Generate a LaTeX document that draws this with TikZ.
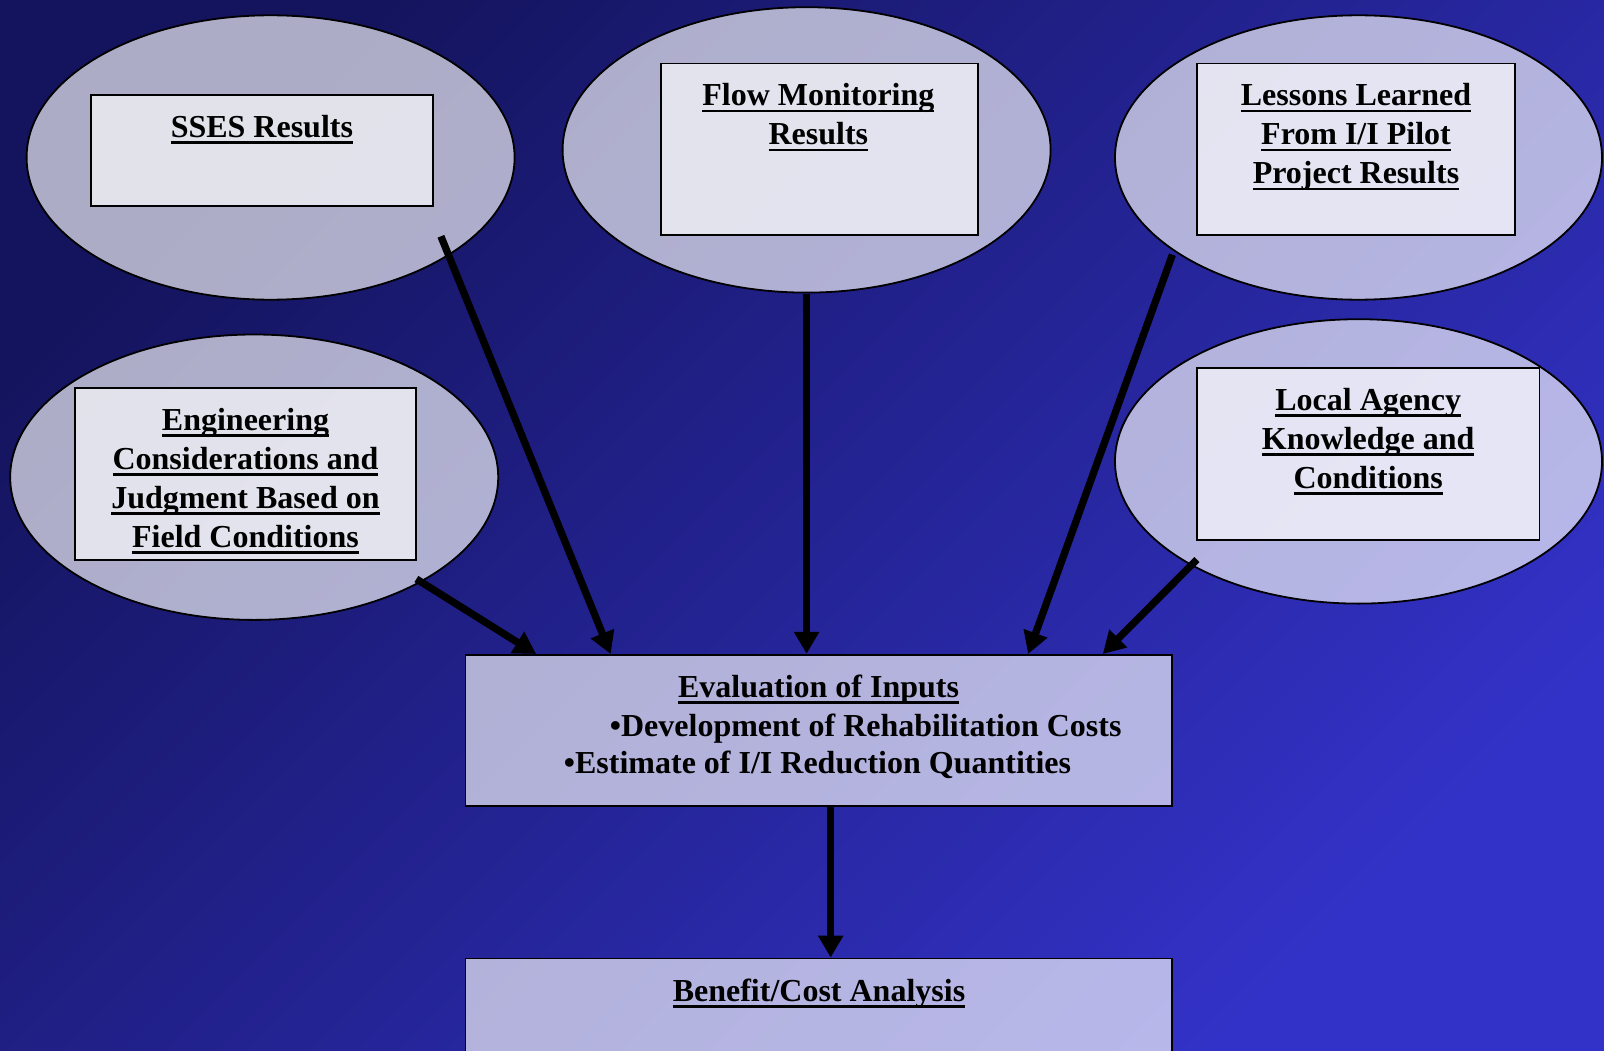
\documentclass[tikz,border=0pt]{standalone}
\usepackage{fontspec}
\setmainfont{Liberation Serif}
\usetikzlibrary{arrows.meta,shapes.geometric}
\definecolor{bgdark}{RGB}{20,20,94}
\definecolor{bglight}{RGB}{51,50,200}
\newcommand\myul[1]{\setbox0\hbox{#1}\rlap{\rule[-6.6pt]{\wd0}{2.7pt}}\box0}
\newcommand\fstrut{\rule{0pt}{25pt}}
\begin{document}
\begin{tikzpicture}[x=1pt,y=-1pt,
  bubble/.style={ellipse,draw=black,line width=1.8pt,fill=white,fill opacity=0.65,inner sep=0pt},
  panel/.style={rectangle,draw=black,line width=1.8pt,fill=white,fill opacity=0.65,inner sep=0pt},
  lbl/.style={font=\fontsize{32}{39}\selectfont\bfseries,align=center,inner sep=0pt,anchor=north},
  txt/.style={font=\fontsize{32}{39}\selectfont\bfseries,inner sep=0pt},
  arr/.style={line width=7.3pt,-{Triangle[width=24pt,length=22pt]}}]
\useasboundingbox (0,0) rectangle (1604,1051);
\clip (0,0) rectangle (1604,1051);
\shade[top color=bgdark,bottom color=bglight,shading angle=45] (0,0) rectangle (1604,1051);

% ellipses
\node[bubble,minimum width=488pt,minimum height=284.4pt] (sses) at (270.6,157.5) {};
\node[bubble,minimum width=488pt,minimum height=285.4pt] (flow) at (806.6,149.9) {};
\node[bubble,minimum width=487pt,minimum height=284.4pt] (lessons) at (1358.5,157.5) {};
\node[bubble,minimum width=488pt,minimum height=285.4pt] (eng) at (254.2,477.2) {};
\node[bubble,minimum width=487pt,minimum height=284.4pt] (local) at (1358.5,461.4) {};

% inner panels
\node[panel,minimum width=341.7pt,minimum height=110.5pt] (ssesbox) at (261.9,150.4) {};
\node[panel,minimum width=317pt,minimum height=171.9pt] (flowbox) at (819.4,149.4) {};
\node[panel,minimum width=318pt,minimum height=171.9pt] (lessonsbox) at (1356,149.4) {};
\node[panel,minimum width=341.7pt,minimum height=171.9pt] (engbox) at (245.5,473.7) {};
\node[panel,minimum width=342.7pt,minimum height=171.9pt] (localbox) at (1368.2,454.2) {};
\node[panel,minimum width=706.9pt,minimum height=151.4pt] (eval) at (818.9,730.4) {};
\node[panel,minimum width=706.9pt,minimum height=151.4pt] (benefit) at (818.9,1034.2) {};

% texts
\node[lbl] (ssestxt) at ([yshift=-18pt]ssesbox.north) {\fstrut\myul{SSES Results}};
\node[lbl] (flowtxt) at ([yshift=-18pt,xshift=-1pt]flowbox.north) {\fstrut\myul{Flow Monitoring}\\\myul{Results}};
\node[lbl] (lessonstxt) at ([yshift=-18pt]lessonsbox.north) {\fstrut\myul{Lessons Learned}\\\myul{From I/I Pilot}\\\myul{Project Results}};
\node[lbl] (engtxt) at ([yshift=-18pt]engbox.north) {\fstrut\myul{Engineering}\\\myul{Considerations and}\\\myul{Judgment Based on}\\\myul{Field Conditions}};
\node[lbl] (localtxt) at ([yshift=-18pt]localbox.north) {\fstrut\myul{Local Agency}\\\myul{Knowledge and}\\\myul{Conditions}};

\node[txt,anchor=base] (evaltitle) at (818.6,697) {\myul{Evaluation of Inputs}};
\node[txt,anchor=base west] (evalb1) at (609.7,736) {•Development of Rehabilitation Costs};
\node[txt,anchor=base west] (evalb2) at (563.7,773.5) {•Estimate of I/I Reduction Quantities};
\node[txt,anchor=base] (benefittitle) at (819,1001.5) {\myul{Benefit/Cost Analysis}};

% connector end points
\coordinate (s1) at (440.9,236.3);
\coordinate (t1) at (610.7,654);
\coordinate (s3) at (1172.4,254.7);
\coordinate (t3) at (1028.1,654);
\coordinate (s4) at (416.4,579);
\coordinate (t4) at (536.1,654);
\coordinate (s5) at (1196.9,559.6);
\coordinate (t5) at (1102.8,654);

\draw[arr] (s1) -- (t1);
\draw[arr] (flow.south) -- (flow.south |- eval.north);
\draw[arr] (s3) -- (t3);
\draw[arr] (s4) -- (t4);
\draw[arr] (s5) -- (t5);
\draw[arr] ([xshift=11.8pt]eval.south) -- ([xshift=11.8pt]benefit.north);
\end{tikzpicture}
\end{document}
